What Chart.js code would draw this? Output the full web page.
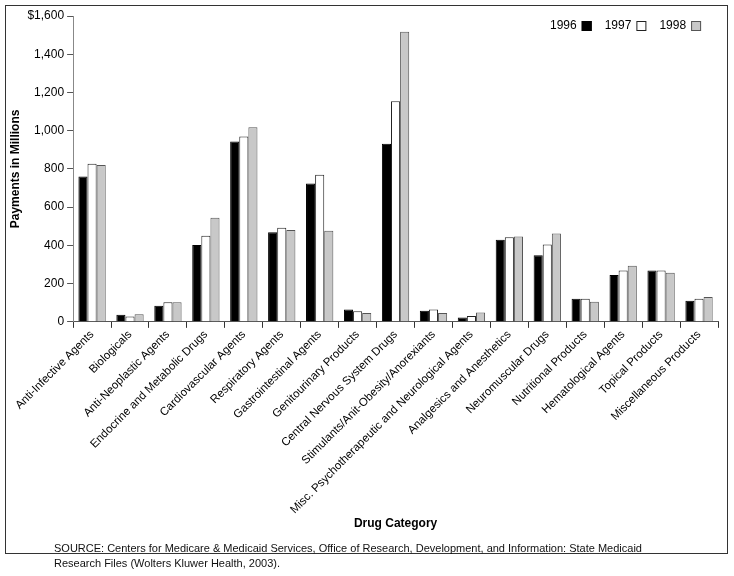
<!DOCTYPE html>
<html lang="en">
<head>
    <meta charset="UTF-8">
    <title>Medicaid Payments by Drug Category</title>
    <script src="https://cdn.jsdelivr.net/npm/chart.js"></script>
    <style>
        body {
            margin: 0;
            background: #fff;
            font-family: "Liberation Sans", Arial, sans-serif;
        }
        .frame {
            position: absolute;
            left: 5px;
            top: 5px;
            width: 721px;
            height: 547px;
            border: 1px solid #333;
            pointer-events: none;
        }
        #chart {
            position: absolute;
            left: 0;
            top: 0;
        }
        .source {
            position: absolute;
            left: 54px;
            top: 541px;
            width: 620px;
            font-size: 11px;
            line-height: 15px;
            color: #111;
        }
    </style>
</head>
<body>
    <canvas id="chart" width="734" height="576"></canvas>
    <div class="frame"></div>
    <div class="source">SOURCE: Centers for Medicare &amp; Medicaid Services, Office of Research, Development, and Information: State Medicaid Research Files (Wolters Kluwer Health, 2003).</div>

    <script>
        const categories = [
            'Anti-Infective Agents', 'Biologicals', 'Anti-Neoplastic Agents',
            'Endocrine and Metabolic Drugs', 'Cardiovascular Agents', 'Respiratory Agents',
            'Gastrointestinal Agents', 'Genitourinary Products', 'Central Nervous System Drugs',
            'Stimulants/Anit-Obesity/Anorexiants', 'Misc. Psychotherapeutic and Neurological Agents',
            'Analgesics and Anesthetics', 'Neuromuscular Drugs', 'Nutritional Products',
            'Hematological Agents', 'Topical Products', 'Miscellaneous Products'
        ];
        const years = ['1996', '1997', '1998'];
        const values1996 = [761, 37, 84, 402, 943, 469, 724, 65, 932, 58, 23, 430, 348, 121, 245, 268, 110];
        const values1997 = [827, 28, 103, 450, 969, 492, 770, 56, 1154, 65, 31, 442, 404, 121, 268, 268, 121];
        const values1998 = [820, 40, 103, 544, 1018, 481, 477, 46, 1518, 46, 49, 446, 462, 105, 294, 257, 130];

        // legend drawn as "label then box", like the original
        const yearLegend = {
            id: 'yearLegend',
            afterDraw(chart) {
                const ctx = chart.ctx;
                ctx.save();
                ctx.font = '12px "Liberation Sans", Arial, sans-serif';
                ctx.textBaseline = 'middle';
                ctx.fillStyle = '#000';
                let x = 550;
                const y = 26;
                chart.data.datasets.forEach(ds => {
                    ctx.textAlign = 'left';
                    ctx.fillText(ds.label, x, y);
                    const w = ctx.measureText(ds.label).width;
                    ctx.fillStyle = ds.backgroundColor;
                    ctx.fillRect(x + w + 5, y - 5, 10, 10);
                    ctx.strokeStyle = ds.borderColor;
                    ctx.lineWidth = 1;
                    ctx.strokeRect(x + w + 5.5, y - 4.5, 9, 9);
                    ctx.fillStyle = '#000';
                    x += w + 28;
                });
                ctx.restore();
            }
        };

        const ctx = document.getElementById('chart').getContext('2d');
        new Chart(ctx, {
            type: 'bar',
            data: {
                labels: categories,
                datasets: [
                    { label: years[0], data: values1996, backgroundColor: '#000', borderColor: '#000' },
                    { label: years[1], data: values1997, backgroundColor: '#fff', borderColor: '#222' },
                    { label: years[2], data: values1998, backgroundColor: '#c8c8c8', borderColor: '#555' }
                ].map(ds => Object.assign(ds, { borderWidth: 1, categoryPercentage: 0.72, barPercentage: 1.0 }))
            },
            options: {
                responsive: false,
                animation: false,
                layout: { padding: { top: 16, right: 16, bottom: 41, left: 4 } },
                plugins: {
                    legend: { display: false },
                    tooltip: { enabled: false }
                },
                scales: {
                    x: {
                        grid: { offset: true, drawOnChartArea: false, tickLength: 6, color: '#333' },
                        border: { color: '#555' },
                        ticks: {
                            maxRotation: 45, minRotation: 45, autoSkip: false,
                            color: '#000', padding: 0,
                            font: { family: '"Liberation Sans", Arial, sans-serif', size: 11.5 }
                        },
                        title: {
                            display: true, text: 'Drug Category', color: '#000',
                            font: { family: '"Liberation Sans", Arial, sans-serif', size: 12, weight: 'bold' },
                            padding: { top: 0 }
                        }
                    },
                    y: {
                        min: 0, max: 1600,
                        grid: { drawOnChartArea: false, tickLength: 6, color: '#555' },
                        border: { color: '#888' },
                        ticks: {
                            stepSize: 200, color: '#000', padding: 3,
                            font: { family: '"Liberation Sans", Arial, sans-serif', size: 12 },
                            callback: v => (v === 1600 ? '$' : '') + v.toLocaleString('en-US')
                        },
                        title: {
                            display: true, text: 'Payments in Millions', color: '#000',
                            font: { family: '"Liberation Sans", Arial, sans-serif', size: 12, weight: 'bold' },
                            padding: { bottom: 2 }
                        }
                    }
                }
            },
            plugins: [yearLegend]
        });
    </script>
</body>
</html>
